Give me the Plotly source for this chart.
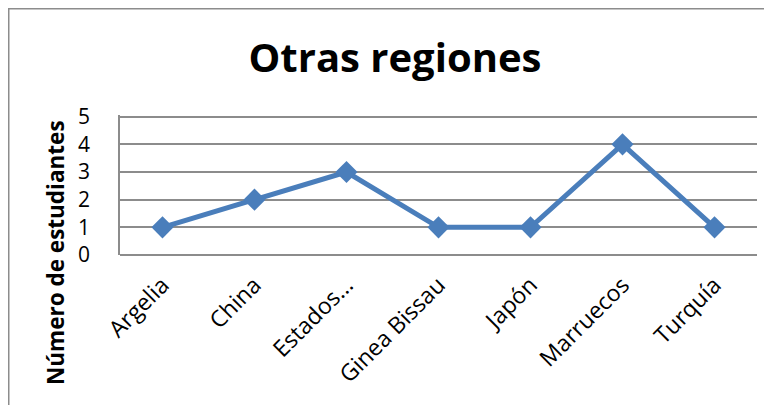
import plotly.graph_objects as go

categories = ["Argelia", "China", "Estados...", "Ginea Bissau", "Japón", "Marruecos", "Turquía"]
values = [1, 2, 3, 1, 1, 4, 1]
y_ticks = [0, 1, 2, 3, 4, 5]

# page body has an 8px offset; work in figure pixel coordinates
OFF = 8
W, H = 764, 397
L, R, T, B = 112, 15, 107, 150
pw, ph = W - L - R, H - T - B

def px_x(x):
    return (x - OFF - L) / pw

def px_y(y):
    return (H - B - (y - OFF)) / ph

fig = go.Figure()
fig.add_trace(go.Scatter(
    x=categories, y=values, mode="lines+markers",
    line=dict(color="#4A7EBB", width=5),
    marker=dict(symbol="diamond", size=17, color="#4A7EBB"),
    showlegend=False, cliponaxis=False,
))

fig.update_layout(
    width=W, height=H,
    margin=dict(l=L, r=R, t=T, b=B, autoexpand=False),
    paper_bgcolor="white", plot_bgcolor="white",
    title=dict(text="<b>Otras regiones</b>", x=(395 - OFF) / W, xanchor="center",
               y=1 - (58 - OFF) / H, yanchor="middle", yref="container",
               font=dict(family="Open Sans", size=40, color="black")),
    xaxis=dict(tickangle=-45, showgrid=False, showline=False, ticks="",
               automargin=False, ticklabelstandoff=11,
               tickfont=dict(family="Open Sans", size=23, color="black")),
    yaxis=dict(range=[0, 5.06], tickvals=y_ticks, showgrid=True, gridcolor="#8C8C8C",
               gridwidth=1.5, showline=True, linecolor="#8C8C8C", linewidth=1.5,
               zeroline=True, zerolinecolor="#8C8C8C", zerolinewidth=2,
               ticks="", ticklabelstandoff=24, automargin=False,
               tickfont=dict(family="Open Sans", size=21, color="black")),
    annotations=[dict(text="<b>Número de estudiantes</b>", textangle=-90,
                      xref="paper", yref="paper", x=px_x(55), y=px_y(253),
                      xanchor="center", yanchor="middle", showarrow=False,
                      font=dict(family="Open Sans", size=22.5, color="black"))],
    shapes=[dict(type="rect", xref="paper", yref="paper",
                 x0=px_x(OFF + 0.75), x1=px_x(800), y0=px_y(430), y1=px_y(OFF + 0.75),
                 line=dict(color="#8C8C8C", width=1.5), layer="below")],
)

fig.write_html("out.html")
